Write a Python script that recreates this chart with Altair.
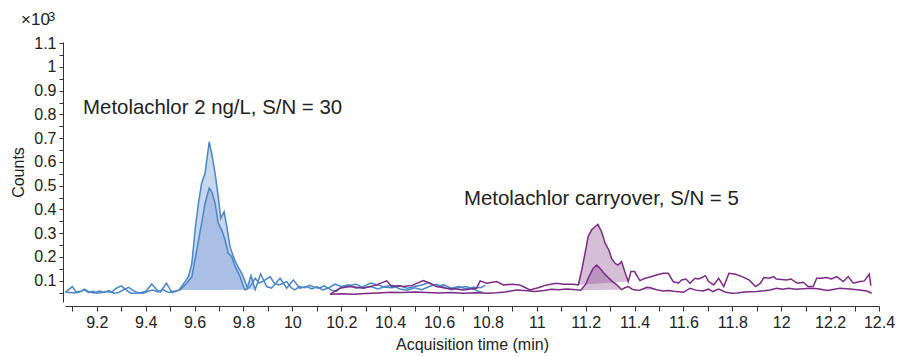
import altair as alt
import pandas as pd

FONT = "Liberation Sans, Arial, sans-serif"
BLUE_LINE = "#4a86c8"
BLUE_FILL = "#86a5da"
PURPLE_LINE = "#7b2a85"
PURPLE_FILL = "#813c87"

# ---- trace A (blue, 2 ng/L, larger peak) ----
a_t = [9.07, 9.085, 9.1, 9.115, 9.135, 9.15, 9.165, 9.185, 9.2, 9.22, 9.24, 9.26, 9.28, 9.3, 9.32, 9.34,
       9.36, 9.38, 9.4, 9.425, 9.445, 9.46, 9.485, 9.505, 9.522, 9.536, 9.55, 9.561, 9.575, 9.589, 9.602,
       9.616, 9.629, 9.643, 9.65, 9.66, 9.67, 9.684, 9.697, 9.707, 9.721, 9.732, 9.745, 9.759, 9.773,
       9.793, 9.807, 9.816, 9.831, 9.848, 9.87, 9.895, 9.915, 9.95, 9.977, 10.004, 10.03, 10.06, 10.08,
       10.1, 10.125, 10.15, 10.175, 10.2, 10.23, 10.26, 10.29, 10.32, 10.35, 10.38, 10.41, 10.44, 10.47,
       10.5, 10.53, 10.56, 10.59, 10.62, 10.65, 10.68, 10.71, 10.74, 10.77, 10.79]
a_v = [0.050, 0.062, 0.075, 0.052, 0.055, 0.061, 0.050, 0.055, 0.047, 0.050, 0.054, 0.050, 0.068, 0.078,
       0.061, 0.047, 0.047, 0.050, 0.054, 0.086, 0.061, 0.052, 0.089, 0.054, 0.056, 0.060, 0.080, 0.096,
       0.117, 0.173, 0.313, 0.426, 0.510, 0.552, 0.608, 0.685, 0.636, 0.552, 0.454, 0.363, 0.390, 0.327,
       0.243, 0.201, 0.166, 0.131, 0.095, 0.070, 0.121, 0.062, 0.128, 0.075, 0.068, 0.110, 0.068, 0.103,
       0.068, 0.075, 0.065, 0.075, 0.061, 0.070, 0.085, 0.075, 0.082, 0.068, 0.075, 0.090, 0.082, 0.072,
       0.070, 0.078, 0.068, 0.075, 0.082, 0.092, 0.075, 0.082, 0.068, 0.075, 0.065, 0.072, 0.070, 0.080]

# ---- trace B (blue, smaller peak) ----
b_t = [9.07, 9.09, 9.11, 9.13, 9.15, 9.17, 9.19, 9.21, 9.23, 9.25, 9.27, 9.29, 9.31, 9.33, 9.35, 9.37,
       9.39, 9.41, 9.43, 9.45, 9.47, 9.49, 9.51, 9.525, 9.541, 9.568, 9.589, 9.609, 9.629, 9.643, 9.654,
       9.66, 9.67, 9.684, 9.697, 9.711, 9.725, 9.738, 9.752, 9.766, 9.786, 9.8, 9.807, 9.825, 9.848,
       9.865, 9.885, 9.909, 9.925, 9.943, 9.96, 9.977, 9.995, 10.01, 10.03, 10.05, 10.07, 10.09, 10.11,
       10.13, 10.16, 10.18, 10.2, 10.23, 10.26, 10.29, 10.32, 10.35, 10.38, 10.41, 10.44, 10.47, 10.5,
       10.53, 10.56, 10.59, 10.62, 10.65, 10.68, 10.71, 10.74, 10.76, 10.78]
b_v = [0.052, 0.050, 0.048, 0.052, 0.064, 0.052, 0.048, 0.056, 0.050, 0.058, 0.047, 0.050, 0.062, 0.072,
       0.058, 0.048, 0.047, 0.055, 0.060, 0.052, 0.062, 0.052, 0.050, 0.056, 0.061, 0.089, 0.117, 0.229,
       0.342, 0.426, 0.468, 0.489, 0.475, 0.426, 0.342, 0.313, 0.271, 0.215, 0.201, 0.159, 0.117, 0.075,
       0.061, 0.072, 0.110, 0.090, 0.100, 0.117, 0.090, 0.082, 0.088, 0.096, 0.070, 0.061, 0.075, 0.070,
       0.080, 0.072, 0.068, 0.078, 0.060, 0.055, 0.072, 0.078, 0.085, 0.070, 0.075, 0.065, 0.075, 0.080,
       0.065, 0.060, 0.070, 0.062, 0.075, 0.085, 0.072, 0.062, 0.070, 0.075, 0.065, 0.055, 0.050]

# ---- trace P1 (purple, carryover, larger) ----
p1_t = [10.155, 10.195, 10.237, 10.29, 10.345, 10.386, 10.406, 10.43, 10.454, 10.49, 10.536, 10.563,
        10.59, 10.63, 10.67, 10.699, 10.73, 10.754, 10.768, 10.795, 10.836, 10.863, 10.9, 10.93, 10.95,
        10.972, 11.013, 11.04, 11.081, 11.11, 11.15, 11.17, 11.185, 11.2, 11.21, 11.224, 11.238, 11.25,
        11.258, 11.265, 11.28, 11.295, 11.306, 11.32, 11.332, 11.347, 11.36, 11.374, 11.385, 11.4, 11.422,
        11.443, 11.463, 11.49, 11.517, 11.538, 11.558, 11.579, 11.593, 11.61, 11.627, 11.647, 11.66,
        11.67, 11.69, 11.703, 11.724, 11.744, 11.765, 11.786, 11.813, 11.84, 11.868, 11.895, 11.915,
        11.929, 11.95, 11.97, 11.98, 12.022, 12.04, 12.06, 12.069, 12.09, 12.11, 12.131, 12.145, 12.165,
        12.185, 12.206, 12.227, 12.254, 12.274, 12.295, 12.322, 12.34, 12.36, 12.367]
p1_v = [0.043, 0.068, 0.075, 0.068, 0.082, 0.099, 0.075, 0.078, 0.075, 0.080, 0.100, 0.089, 0.075, 0.068,
        0.065, 0.061, 0.065, 0.068, 0.099, 0.089, 0.096, 0.082, 0.085, 0.082, 0.072, 0.061, 0.072, 0.082,
        0.089, 0.085, 0.085, 0.082, 0.150, 0.229, 0.285, 0.313, 0.327, 0.337, 0.320, 0.306, 0.257, 0.229,
        0.194, 0.173, 0.166, 0.180, 0.138, 0.096, 0.138, 0.138, 0.100, 0.110, 0.115, 0.124, 0.131, 0.131,
        0.096, 0.089, 0.103, 0.107, 0.089, 0.110, 0.107, 0.110, 0.121, 0.096, 0.082, 0.110, 0.075, 0.131,
        0.127, 0.117, 0.103, 0.075, 0.089, 0.113, 0.110, 0.117, 0.107, 0.103, 0.107, 0.093, 0.089, 0.093,
        0.075, 0.075, 0.110, 0.110, 0.113, 0.107, 0.117, 0.096, 0.117, 0.089, 0.096, 0.099, 0.127, 0.079]

# ---- trace P2 (purple, carryover, smaller) ----
p2_t = [10.155, 10.2, 10.25, 10.3, 10.35, 10.4, 10.45, 10.5, 10.55, 10.6, 10.65, 10.7, 10.75, 10.8,
        10.836, 10.87, 10.918, 10.95, 10.99, 11.03, 11.06, 11.09, 11.122, 11.15, 11.18, 11.2, 11.215,
        11.23, 11.245, 11.26, 11.275, 11.29, 11.31, 11.33, 11.347, 11.36, 11.375, 11.39, 11.41, 11.425,
        11.45, 11.465, 11.49, 11.517, 11.54, 11.56, 11.6, 11.627, 11.65, 11.68, 11.703, 11.72, 11.744,
        11.77, 11.797, 11.82, 11.84, 11.87, 11.9, 11.93, 11.954, 11.981, 12.005, 12.03, 12.06, 12.09,
        12.117, 12.15, 12.19, 12.24, 12.28, 12.32, 12.35, 12.37]
p2_v = [0.043, 0.045, 0.043, 0.046, 0.048, 0.051, 0.050, 0.052, 0.050, 0.048, 0.050, 0.047, 0.049, 0.047,
        0.049, 0.052, 0.061, 0.058, 0.054, 0.058, 0.064, 0.062, 0.065, 0.063, 0.060, 0.085, 0.120, 0.150,
        0.166, 0.150, 0.131, 0.115, 0.096, 0.080, 0.062, 0.070, 0.075, 0.064, 0.060, 0.061, 0.072, 0.070,
        0.062, 0.056, 0.058, 0.055, 0.051, 0.068, 0.060, 0.056, 0.064, 0.054, 0.064, 0.052, 0.047, 0.048,
        0.051, 0.053, 0.054, 0.057, 0.061, 0.068, 0.064, 0.068, 0.064, 0.066, 0.068, 0.066, 0.059, 0.068,
        0.065, 0.061, 0.056, 0.047]

# integrated peaks: (trace, start time, end time)
fills = [("A", 9.536, 9.848), ("B", 9.541, 9.807), ("P1", 11.17, 11.374),
         ("P2", 11.18, 11.347), ("P2", 11.425, 11.49)]

ann_text = ["Metolachlor 2 ng/L, S/N = 30", "Metolachlor carryover, S/N = 5"]
ann_t = [9.144, 10.702]
ann_v = [0.827, 0.444]

x_ticks = [9.1, 9.2, 9.3, 9.4, 9.5, 9.6, 9.7, 9.8, 9.9, 10.0, 10.1, 10.2, 10.3, 10.4, 10.5, 10.6, 10.7,
           10.8, 10.9, 11.0, 11.1, 11.2, 11.3, 11.4, 11.5, 11.6, 11.7, 11.8, 11.9, 12.0, 12.1, 12.2, 12.3, 12.4]
y_ticks = [0.05, 0.1, 0.15, 0.2, 0.25, 0.3, 0.35, 0.4, 0.45, 0.5, 0.55, 0.6, 0.65, 0.7, 0.75, 0.8, 0.85,
           0.9, 0.95, 1.0, 1.05, 1.1]

traces = {"A": (a_t, a_v, "blue"), "B": (b_t, b_v, "blue"),
          "P1": (p1_t, p1_v, "purple"), "P2": (p2_t, p2_v, "purple")}

rows = []
for name, (ts, vs, grp) in traces.items():
    assert len(ts) == len(vs), name
    for t, v in zip(ts, vs):
        rows.append({"trace": name, "group": grp, "t": t, "v": v})
lines_df = pd.DataFrame(rows)

fill_rows = []
for i, (name, t0, t1) in enumerate(fills):
    ts, vs, grp = traces[name]
    v0 = vs[ts.index(t0)]
    v1 = vs[ts.index(t1)]
    for t, v in zip(ts, vs):
        if t0 <= t <= t1:
            base = v0 + (v1 - v0) * (t - t0) / (t1 - t0)
            fill_rows.append({"fill": f"f{i}", "group": grp, "t": t, "v": v, "b": base})
fill_df = pd.DataFrame(fill_rows)

ann_df = pd.DataFrame({"label": ann_text, "t": ann_t, "v": ann_v})

x_scale = alt.Scale(domain=[9.07, 12.4], nice=False, zero=False)
y_scale = alt.Scale(domain=[0.01, 1.105], nice=False, zero=False)

x_enc = alt.X("t:Q", scale=x_scale, title="Acquisition time (min)",
              axis=alt.Axis(values=x_ticks, format="~g", offset=4, tickSize=5, labelPadding=3,
                            labelExpr="round(datum.value*10) % 2 == 0 ? datum.label : ''",
                            titlePadding=6, labelFlush=False))
y_enc = alt.Y("v:Q", scale=y_scale, title="Counts",
              axis=alt.Axis(values=y_ticks, format="~g", offset=2, tickSize=4, labelPadding=3,
                            labelExpr="round(datum.value*100) % 10 == 0 ? datum.label : ''",
                            titlePadding=7))

areas = alt.Chart(fill_df).mark_area(strokeWidth=0).encode(
    x=x_enc, y=y_enc, y2="b:Q",
    color=alt.Color("group:N", scale=alt.Scale(domain=["blue", "purple"], range=[BLUE_FILL, PURPLE_FILL]),
                    legend=None),
    opacity=alt.Opacity("group:N", scale=alt.Scale(domain=["blue", "purple"], range=[0.45, 0.33]),
                        legend=None),
    detail="fill:N",
)

lines = alt.Chart(lines_df).mark_line(strokeWidth=1.5).encode(
    x=x_enc, y=y_enc,
    stroke=alt.Stroke("group:N", scale=alt.Scale(domain=["blue", "purple"], range=[BLUE_LINE, PURPLE_LINE]),
                      legend=None),
    detail="trace:N",
)

ann = alt.Chart(ann_df).mark_text(align="left", baseline="middle", fontSize=20.4, font=FONT,
                                  color="#222222").encode(x=x_enc, y=y_enc, text="label:N")

exp_df = pd.DataFrame({"s": ["×10"]})
exp1 = alt.Chart(exp_df).mark_text(align="left", baseline="alphabetic", fontSize=17, font=FONT,
                                   color="#222222").encode(x=alt.value(-44), y=alt.value(-17), text="s:N")
sup_df = pd.DataFrame({"s": ["3"]})
exp2 = alt.Chart(sup_df).mark_text(align="left", baseline="alphabetic", fontSize=13, font=FONT,
                                   color="#222222").encode(x=alt.value(-17), y=alt.value(-21), text="s:N")

chart = alt.layer(areas, lines, ann, exp1, exp2).properties(
    width=814, height=260,
    autosize=alt.AutoSizeParams(type="none"),
    padding={"left": 65, "top": 42, "right": 30, "bottom": 55},
).configure_view(stroke=None).configure_axis(
    grid=False, domainColor="#333333", tickColor="#333333", labelColor="#222222",
    labelFont=FONT, labelFontSize=16, titleFont=FONT, titleFontSize=16, titleFontWeight="normal",
    titleColor="#222222", domainWidth=1, tickWidth=1,
)

chart.save("out.html", embed_options={"renderer": "svg", "actions": False})
